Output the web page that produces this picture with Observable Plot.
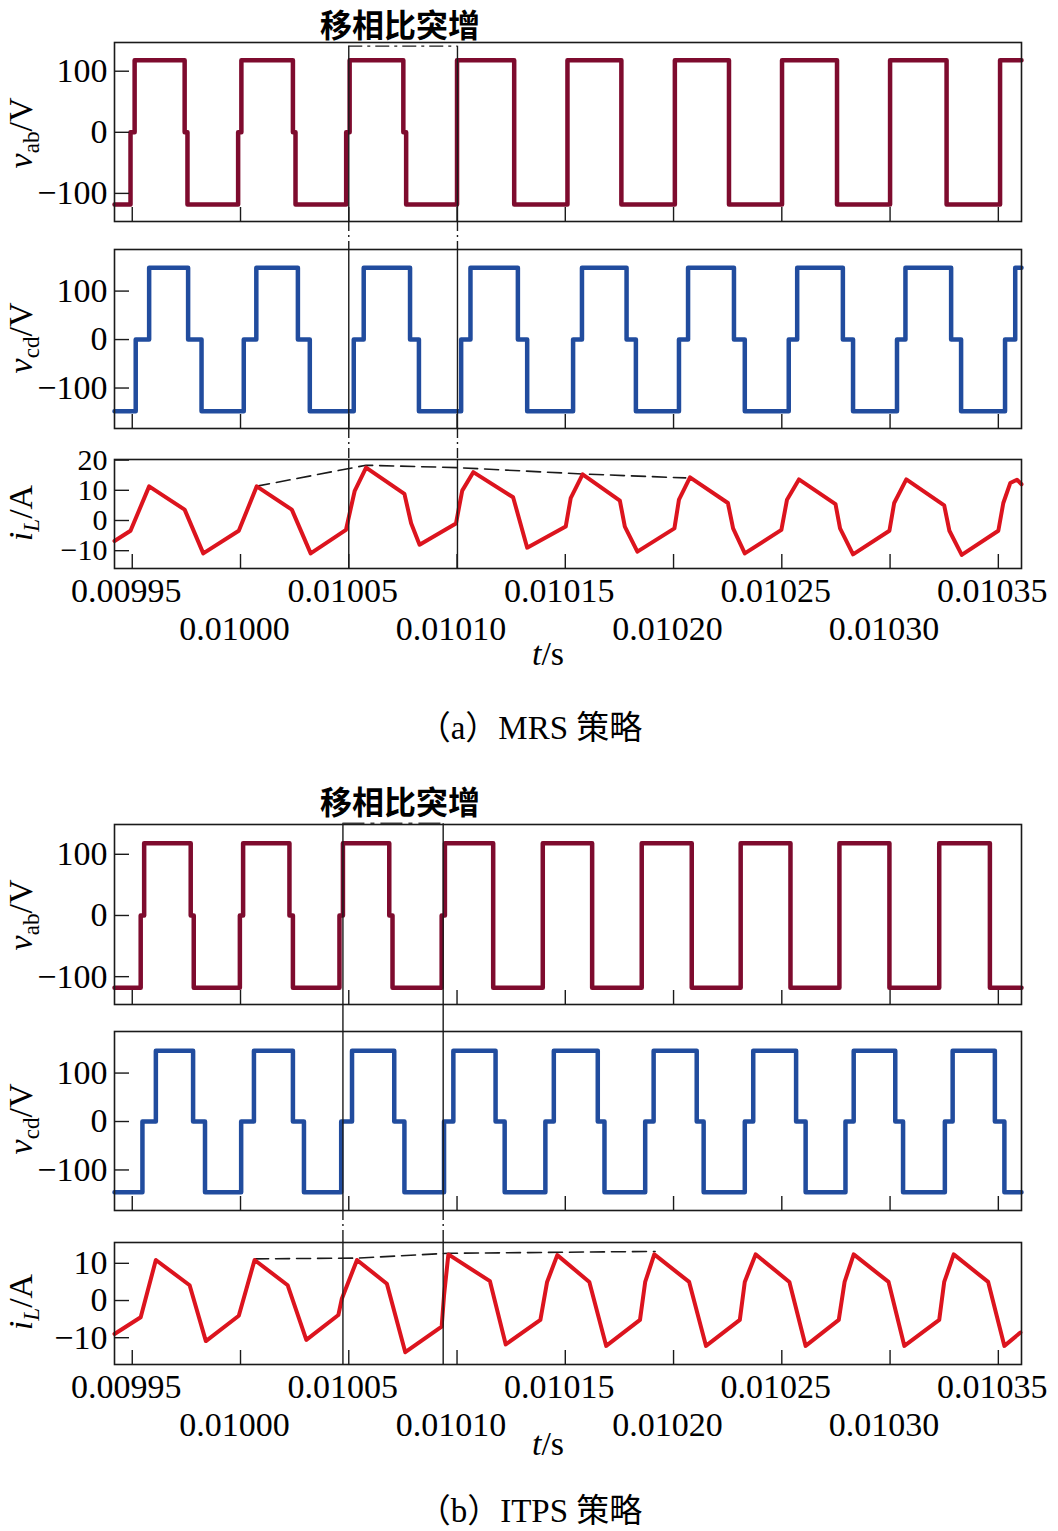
<!DOCTYPE html>
<html><head><meta charset="utf-8">
<script src="https://cdn.jsdelivr.net/npm/d3@7"></script>
<script src="https://cdn.jsdelivr.net/npm/@observablehq/plot@0.6"></script>
<style>
body{margin:0;background:#fff;}
#root{position:relative;width:1058px;height:1531px;background:#fff;overflow:hidden;font-family:"Liberation Serif","Noto Sans CJK SC",serif;color:#000;}
#root svg{font-family:"Liberation Serif",serif;}
.lab{position:absolute;white-space:nowrap;line-height:1.25;}
.ylab{transform:translate(-50%,-50%) rotate(-90deg);font-size:34px;}
.ylab sub{font-size:0.68em;vertical-align:-0.3em;line-height:0;}
.title{transform:translate(-50%,-50%);font-family:"Noto Sans CJK SC";font-weight:700;font-size:32px;line-height:1.05;}
.cap{transform:translate(-50%,-50%);font-size:33px;line-height:1.1;}
.tlab{transform:translate(-50%,-50%);font-size:34px;}
</style></head><body><div id="root"></div>
<script>
// ---------- shared axis values ----------
const xDomain = [0.0099418, 0.0103607];
const xTicksRow1 = [0.00995, 0.01005, 0.01015, 0.01025, 0.01035];
const xTicksRow2 = [0.01000, 0.01010, 0.01020, 0.01030];
const xTicksAll = [0.00995, 0.01000, 0.01005, 0.01010, 0.01015, 0.01020, 0.01025, 0.01030, 0.01035];
const vTicks = [-100, 0, 100];
const iTicksA = [-10, 0, 10, 20];
const iTicksB = [-10, 0, 10];

// ---------- (a) MRS ----------
const vabA_t = [0.0099418,0.0099492,0.0099511,0.0099742,0.0099755,0.0099989,0.0100004,0.0100242,0.0100254,0.0100488,0.0100504,0.0100752,0.0100765,0.0101000,0.0101264,0.0101510,0.0101759,0.0102006,0.0102256,0.0102501,0.0102755,0.0103000,0.0103261,0.0103508,0.0103607];
const vabA_v = [-118,0,118,0,-118,0,118,0,-118,0,118,0,-118,118,-118,118,-118,118,-118,118,-118,118,-118,118,118];

const vcdA_t = [0.0099418,0.0099516,0.0099578,0.0099758,0.0099820,0.0100015,0.0100073,0.0100265,0.0100320,0.0100523,0.0100569,0.0100783,0.0100824,0.0101019,0.0101062,0.0101281,0.0101324,0.0101536,0.0101577,0.0101783,0.0101826,0.0102025,0.0102067,0.0102279,0.0102329,0.0102532,0.0102571,0.0102782,0.0102829,0.0103032,0.0103071,0.0103282,0.0103328,0.0103531,0.0103578,0.0103607];
const vcdA_v = [-148,0,148,0,-148,0,148,0,-148,0,148,0,-148,0,148,0,-148,0,148,0,-148,0,148,0,-148,0,148,0,-148,0,148,0,-148,0,148,148];

const iLA_t = [0.0099418,0.0099492,0.0099578,0.0099742,0.0099828,0.0099992,0.0100075,0.0100237,0.0100324,0.0100487,0.0100527,0.0100580,0.0100757,0.0100788,0.0100827,0.0100995,0.0101024,0.0101075,0.0101259,0.0101324,0.0101502,0.0101525,0.0101580,0.0101752,0.0101775,0.0101833,0.0102004,0.0102025,0.0102076,0.0102251,0.0102275,0.0102329,0.0102498,0.0102524,0.0102579,0.0102748,0.0102769,0.0102829,0.0102997,0.0103019,0.0103075,0.0103250,0.0103274,0.0103331,0.0103500,0.0103523,0.0103555,0.0103586,0.0103607];
const iLA_v = [-6.8,-3.4,11.3,3.6,-10.9,-3.4,11.3,3.6,-10.9,-3.1,9.7,17.5,8.8,-0.9,-8.0,-1.0,9.9,16.0,7.7,-9.0,-2.0,7.4,15.3,6.6,-2.0,-10.3,-2.6,6.9,14.3,5.8,-2.6,-10.9,-3.1,6.9,13.6,5.4,-2.6,-11.2,-3.4,5.8,13.6,5.0,-3.4,-11.4,-3.4,5.8,12.4,13.5,12.0];

const envA_t = [0.0100070,0.0100580,0.0101003,0.0101580,0.0102056];
const envA_v = [11.3,18.3,17.5,15.4,14.1];

const boxA_t = [0.0100500, 0.0101002];
const boxA_top = 141;

// ---------- (b) ITPS ----------
const vabB_t = [0.0099418,0.0099539,0.0099555,0.0099770,0.0099784,0.0099997,0.0100012,0.0100226,0.0100242,0.0100457,0.0100473,0.0100687,0.0100702,0.0100929,0.0100944,0.0101167,0.0101396,0.0101624,0.0101853,0.0102084,0.0102310,0.0102540,0.0102766,0.0102997,0.0103227,0.0103461,0.0103607];
const vabB_v = [-118,0,118,0,-118,0,118,0,-118,0,118,0,-118,0,118,-118,118,-118,118,-118,118,-118,118,-118,118,-118,-118];

const vcdB_t = [0.0099418,0.0099547,0.0099609,0.0099781,0.0099836,0.0100003,0.0100062,0.0100242,0.0100293,0.0100465,0.0100515,0.0100710,0.0100757,0.0100940,0.0100983,0.0101178,0.0101220,0.0101408,0.0101447,0.0101650,0.0101681,0.0101869,0.0101908,0.0102107,0.0102139,0.0102329,0.0102368,0.0102566,0.0102610,0.0102794,0.0102832,0.0103024,0.0103060,0.0103253,0.0103289,0.0103484,0.0103528,0.0103607];
const vcdB_v = [-146,0,146,0,-146,0,146,0,-146,0,146,0,-146,0,146,0,-146,0,146,0,-146,0,146,0,-146,0,146,0,-146,0,146,0,-146,0,146,0,-146,-146];

const iLB_t = [0.0099418,0.0099539,0.0099609,0.0099765,0.0099840,0.0099992,0.0100065,0.0100218,0.0100304,0.0100452,0.0100468,0.0100538,0.0100676,0.0100761,0.0100929,0.0100940,0.0100960,0.0101152,0.0101225,0.0101385,0.0101416,0.0101463,0.0101611,0.0101689,0.0101845,0.0101869,0.0101911,0.0102072,0.0102150,0.0102306,0.0102329,0.0102379,0.0102535,0.0102610,0.0102763,0.0102790,0.0102832,0.0102993,0.0103066,0.0103227,0.0103250,0.0103294,0.0103453,0.0103528,0.0103602];
const iLB_v = [-9.0,-4.5,10.9,4.1,-10.9,-4.1,10.9,4.1,-10.6,-3.9,0.5,10.9,4.5,-13.9,-7.0,1.4,12.4,5.2,-11.8,-5.2,5.0,12.2,5.0,-12.2,-5.2,5.0,12.4,5.0,-12.2,-5.2,5.0,12.4,5.0,-12.2,-5.2,5.0,12.4,5.0,-12.2,-5.2,5.0,12.4,5.0,-12.2,-8.6];

const envB_t = [0.0100065,0.0100538,0.0100960,0.0101915];
const envB_v = [11.2,11.4,12.7,13.2];

const boxB_t = [0.0100473, 0.0100936];
const boxB_top = 150;

// ---------- colours ----------
const C_VAB = "#7e0b2e", C_VCD = "#214c9e", C_IL = "#dc141e", C_INK = "#1a1a1a";
const DASHDOT = "10,4,2,4";
const SERIF = "Liberation Serif";

const rows = (ts, vs) => ts.map((t, i) => ({t, v: vs[i]}));
const fmtY = d => d < 0 ? "\u2212" + (-d) : String(d);
const root = document.getElementById("root");

function panel({top, bottom, yDomain, yTicks, marks, xLabels = false, mt = 10, mb = 10, yFont = 34}) {
  const h = bottom - top;
  const extra = xLabels ? [
    Plot.axisX({ticks: xTicksRow1, tickSize: 0, tickPadding: 9, tickFormat: d => d.toFixed(5), fontSize: 34, fontFamily: SERIF, dx: -6, label: null}),
    Plot.axisX({ticks: xTicksRow2, tickSize: 0, tickPadding: 47, tickFormat: d => d.toFixed(5), fontSize: 34, fontFamily: SERIF, dx: -6, label: null})
  ] : [];
  const fig = Plot.plot({
    width: 1058, height: h + mt + mb,
    marginLeft: 114, marginRight: 37, marginTop: mt, marginBottom: mb,
    x: xLabels ? {domain: xDomain} : {domain: xDomain, axis: null},
    y: {domain: yDomain},
    style: {background: "transparent", overflow: "visible", fontSize: "34px", color: "#000"},
    marks: [
      ...marks,
      Plot.ruleY(yTicks, {y: d => d, x1: xDomain[0], x2: xDomain[0], insetRight: -15, stroke: C_INK, strokeWidth: 1.4}),
      Plot.ruleX(xTicksAll, {x: d => d, y1: yDomain[0], y2: yDomain[0], insetTop: -14, stroke: C_INK, strokeWidth: 1.4}),
      Plot.axisY({ticks: yTicks, tickSize: 0, tickPadding: 7, tickFormat: fmtY, fontSize: yFont, fontFamily: SERIF, label: null}),
      Plot.frame({stroke: C_INK, strokeWidth: 1.6}),
      ...extra
    ]
  });
  fig.style.position = "absolute";
  fig.style.left = "0px";
  fig.style.top = (top - mt) + "px";
  fig.style.fontFamily = '"Liberation Serif", serif';
  root.appendChild(fig);
}

function label(cls, html, x, y) {
  const d = document.createElement("div");
  d.className = "lab " + cls;
  d.innerHTML = html;
  d.style.left = x + "px";
  d.style.top = y + "px";
  root.appendChild(d);
}

// ---------- (a) panels ----------
const A1 = {top: 42, bottom: 221, y: [-146, 147]};
const A2 = {top: 249, bottom: 428, y: [-183.5, 185.8]};
const A3 = {top: 459, bottom: 568, y: [-15.9, 20.2]};

panel({top: A1.top, bottom: A1.bottom, yDomain: A1.y, yTicks: vTicks, marks: [
  Plot.line(rows(vabA_t, vabA_v), {x: "t", y: "v", curve: "step-after", stroke: C_VAB, strokeWidth: 4.5}),
  Plot.ruleX(boxA_t, {x: d => d, y1: boxA_top, y2: A1.y[0], stroke: C_INK, strokeWidth: 1.4}),
  Plot.ruleY([boxA_top], {y: d => d, x1: boxA_t[0], x2: boxA_t[1], stroke: C_INK, strokeWidth: 1.4, strokeDasharray: "14,5,3,5"}),
  Plot.ruleX(boxA_t, {x: d => d, y1: A1.y[0], y2: A1.y[0], insetBottom: -(A2.top - A1.bottom), stroke: C_INK, strokeWidth: 1.4, strokeDasharray: DASHDOT})
]});
panel({top: A2.top, bottom: A2.bottom, yDomain: A2.y, yTicks: vTicks, marks: [
  Plot.line(rows(vcdA_t, vcdA_v), {x: "t", y: "v", curve: "step-after", stroke: C_VCD, strokeWidth: 4.5}),
  Plot.ruleX(boxA_t, {x: d => d, stroke: C_INK, strokeWidth: 1.4}),
  Plot.ruleX(boxA_t, {x: d => d, y1: A2.y[0], y2: A2.y[0], insetBottom: -(A3.top - A2.bottom), stroke: C_INK, strokeWidth: 1.4, strokeDasharray: DASHDOT})
]});
panel({top: A3.top, bottom: A3.bottom, yDomain: A3.y, yTicks: iTicksA, xLabels: true, mb: 110, yFont: 30, marks: [
  Plot.line(rows(envA_t, envA_v), {x: "t", y: "v", stroke: C_INK, strokeWidth: 1.6, strokeDasharray: "14,7"}),
  Plot.line(rows(iLA_t, iLA_v), {x: "t", y: "v", stroke: C_IL, strokeWidth: 4}),
  Plot.ruleX(boxA_t, {x: d => d, stroke: C_INK, strokeWidth: 1.4})
]});

// ---------- (b) panels ----------
const B1 = {top: 824, bottom: 1004, y: [-145.5, 148.7]};
const B2 = {top: 1031, bottom: 1210, y: [-183.7, 185.8]};
const B3 = {top: 1242, bottom: 1364, y: [-17.2, 15.6]};

panel({top: B1.top, bottom: B1.bottom, yDomain: B1.y, yTicks: vTicks, marks: [
  Plot.line(rows(vabB_t, vabB_v), {x: "t", y: "v", curve: "step-after", stroke: C_VAB, strokeWidth: 4.5}),
  Plot.ruleX(boxB_t, {x: d => d, y1: boxB_top, y2: B1.y[0], insetBottom: -(B2.top - B1.bottom), stroke: C_INK, strokeWidth: 1.4}),
  Plot.ruleY([boxB_top], {y: d => d, x1: boxB_t[0], x2: boxB_t[1], stroke: "#444", strokeWidth: 2.2, strokeDasharray: "22,6,4,6"})
]});
panel({top: B2.top, bottom: B2.bottom, yDomain: B2.y, yTicks: vTicks, marks: [
  Plot.line(rows(vcdB_t, vcdB_v), {x: "t", y: "v", curve: "step-after", stroke: C_VCD, strokeWidth: 4.5}),
  Plot.ruleX(boxB_t, {x: d => d, stroke: C_INK, strokeWidth: 1.4}),
  Plot.ruleX(boxB_t, {x: d => d, y1: B2.y[0], y2: B2.y[0], insetBottom: -(B3.top - B2.bottom - 7), stroke: C_INK, strokeWidth: 1.4, strokeDasharray: DASHDOT})
]});
panel({top: B3.top, bottom: B3.bottom, yDomain: B3.y, yTicks: iTicksB, xLabels: true, mb: 110, marks: [
  Plot.line(rows(envB_t, envB_v), {x: "t", y: "v", stroke: C_INK, strokeWidth: 1.6, strokeDasharray: "14,7"}),
  Plot.line(rows(iLB_t, iLB_v), {x: "t", y: "v", stroke: C_IL, strokeWidth: 4}),
  Plot.ruleX(boxB_t, {x: d => d, y1: B3.y[1], y2: B3.y[0], insetTop: -7, stroke: C_INK, strokeWidth: 1.4})
]});

// ---------- text ----------
label("title", "移相比突增", 400, 24);
label("title", "移相比突增", 400, 801);

label("ylab", "<i>v</i><sub>ab</sub>/V", 21, 133);
label("ylab", "<i>v</i><sub>cd</sub>/V", 21, 338);
label("ylab", "<i>i</i><sub><i>L</i></sub>/A", 21, 513);
label("ylab", "<i>v</i><sub>ab</sub>/V", 21, 915);
label("ylab", "<i>v</i><sub>cd</sub>/V", 21, 1119);
label("ylab", "<i>i</i><sub><i>L</i></sub>/A", 21, 1302);

label("tlab", "<i>t</i>/s", 548, 654);
label("tlab", "<i>t</i>/s", 548, 1444);

label("cap", "（a）MRS 策略", 530, 728);
label("cap", "（b）ITPS 策略", 530, 1511);
</script></body></html>
